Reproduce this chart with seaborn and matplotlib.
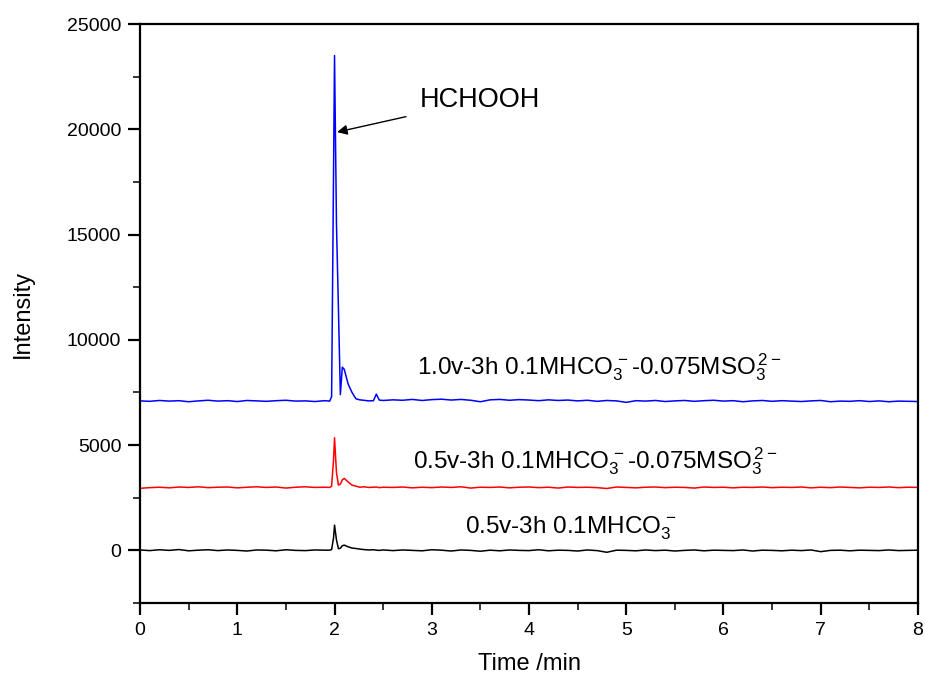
import numpy as np
import pandas as pd
import matplotlib
matplotlib.use("Agg")
import matplotlib.pyplot as plt
from matplotlib.ticker import MultipleLocator
import seaborn as sns

# --- data ---
t_pre = [0.0, 0.1, 0.2, 0.3, 0.4, 0.5, 0.6, 0.7, 0.8, 0.9,
         1.0, 1.1, 1.2, 1.3, 1.4, 1.5, 1.6, 1.7, 1.8, 1.9]
t_peak = [1.95, 1.97, 1.99, 2.0, 2.02, 2.04, 2.06, 2.08, 2.1, 2.14,
          2.18, 2.22, 2.26, 2.3, 2.35, 2.4, 2.43, 2.46, 2.5]
t_post = [2.6, 2.7, 2.8, 2.9, 3.0, 3.1, 3.2, 3.3, 3.4, 3.5,
          3.6, 3.7, 3.8, 3.9, 4.0, 4.1, 4.2, 4.3, 4.4, 4.5,
          4.6, 4.7, 4.8, 4.9, 5.0, 5.1, 5.2, 5.3, 5.4, 5.5,
          5.6, 5.7, 5.8, 5.9, 6.0, 6.1, 6.2, 6.3, 6.4, 6.5,
          6.6, 6.7, 6.8, 6.9, 7.0, 7.1, 7.2, 7.3, 7.4, 7.5,
          7.6, 7.7, 7.8, 7.9, 8.0]
time = t_pre + t_peak + t_post

blue = [7100, 7080, 7120, 7090, 7110, 7060, 7100, 7130, 7090, 7110,
        7070, 7120, 7100, 7080, 7110, 7130, 7090, 7100, 7070, 7110,
        7090, 7300, 18000, 23500, 15500, 11500, 7400, 8700, 8600, 7900,
        7500, 7200, 7150, 7130, 7100, 7110, 7420, 7140, 7120,
        7150, 7130, 7170, 7120, 7160, 7180, 7140, 7170, 7130, 7060,
        7150, 7170, 7130, 7160, 7140, 7110, 7150, 7120, 7140, 7100,
        7130, 7080, 7120, 7100, 7030, 7110, 7090, 7120, 7070, 7100,
        7120, 7080, 7110, 7130, 7090, 7110, 7060, 7100, 7120, 7080,
        7110, 7090, 7070, 7100, 7120, 7060, 7090, 7080, 7110, 7070,
        7100, 7060, 7090, 7080, 7070]
red = [2950, 2980, 3000, 2970, 3010, 2990, 3020, 2980, 3000, 3010,
       2970, 3000, 3020, 2990, 3010, 2960, 3000, 3020, 2990, 3000,
       2990, 3050, 4300, 5350, 3700, 3100, 3150, 3350, 3420, 3250,
       3100, 3050, 3000, 3020, 2990, 3000, 3010, 2980, 3000,
       2990, 3010, 2970, 3000, 2980, 3010, 2990, 3020, 2960, 3000,
       2990, 3010, 2970, 3000, 3010, 2980, 3000, 2960, 3010, 2990,
       3000, 2980, 2940, 3010, 2990, 2970, 3000, 3010, 2980, 3000,
       2990, 2960, 3010, 2990, 3000, 2970, 3000, 2990, 3010, 2980,
       3000, 2990, 3010, 2970, 3000, 2980, 3010, 2990, 2970, 3000,
       2990, 3010, 2980, 3000, 2990]
black = [20, -10, 30, 0, 40, -20, 10, 30, -10, 20,
         0, -30, 20, 10, -20, 30, 0, -10, 20, 10,
         10, 40, 600, 1200, 500, 80, 100, 220, 250, 170,
         110, 90, 60, 40, 20, 30, 10, 0, 20,
         -10, 20, 0, -20, 30, 10, -30, 20, 0, -40,
         10, -20, 20, 0, -10, 30, -20, 10, 0, -30,
         20, -10, -90, 10, 0, -20, 20, -10, 10, -30,
         0, 20, -20, 10, 0, -10, 20, -30, 10, 0,
         -20, 10, -10, 20, -60, 0, 10, -20, 10, 0,
         -10, 20, -10, 0, 10]

labels = [r"0.5v-3h 0.1MHCO$_3^{\,-}$",
          r"0.5v-3h 0.1MHCO$_3^{\,-}$-0.075MSO$_3^{\,2-}$",
          r"1.0v-3h 0.1MHCO$_3^{\,-}$-0.075MSO$_3^{\,2-}$"]

df = pd.DataFrame({"time": time, "black": black, "red": red, "blue": blue})

sns.set_style("ticks")
plt.rcParams["font.family"] = ["Liberation Sans", "DejaVu Sans"]
plt.rcParams["mathtext.fontset"] = "custom"
plt.rcParams["mathtext.rm"] = "Liberation Sans"
plt.rcParams["mathtext.it"] = "Liberation Sans:italic"
plt.rcParams["mathtext.bf"] = "Liberation Sans:bold"
plt.rcParams["text.color"] = "black"
plt.rcParams["axes.labelcolor"] = "black"

fig = plt.figure(figsize=(9.25, 6.82), dpi=100)
ax = fig.add_axes([0.1514, 0.1158, 0.8410, 0.8490])

sns.lineplot(data=df, x="time", y="black", color="black", lw=1.1, sort=False, estimator=None, ax=ax)
sns.lineplot(data=df, x="time", y="red", color="#ff0000", lw=1.1, sort=False, estimator=None, ax=ax)
sns.lineplot(data=df, x="time", y="blue", color="#0000ff", lw=1.1, sort=False, estimator=None, ax=ax)

ax.set_xlim(0, 8)
ax.set_ylim(-2500, 25000)
ax.xaxis.set_major_locator(MultipleLocator(1))
ax.xaxis.set_minor_locator(MultipleLocator(0.5))
ax.yaxis.set_major_locator(MultipleLocator(5000))
ax.yaxis.set_minor_locator(MultipleLocator(2500))
ax.tick_params(which="major", direction="out", length=8.5, width=1.6, labelsize=14,
               colors="black", labelcolor="black", pad=5)
ax.tick_params(which="minor", direction="out", length=5, width=1.3)
for s in ax.spines.values():
    s.set_linewidth(1.6)
    s.set_color("black")

ax.set_xlabel("Time /min", fontsize=17, labelpad=10)
ax.set_ylabel("Intensity", fontsize=17, labelpad=24)

# curve labels
ax.text(3.34, 808, labels[0], fontsize=17.5, va="baseline", color="black")
ax.text(2.81, 3897, labels[1], fontsize=17.5, va="baseline", color="black")
ax.text(2.85, 8365, labels[2], fontsize=17.5, va="baseline", color="black")

ax.annotate("HCHOOH", xy=(2.026, 19867), xytext=(2.88, 21390), fontsize=19.5, va="center",
            color="black",
            arrowprops=dict(arrowstyle="-|>", color="black", lw=1, shrinkA=8, shrinkB=0,
                            mutation_scale=15))

fig.savefig("out.png", dpi=100)
